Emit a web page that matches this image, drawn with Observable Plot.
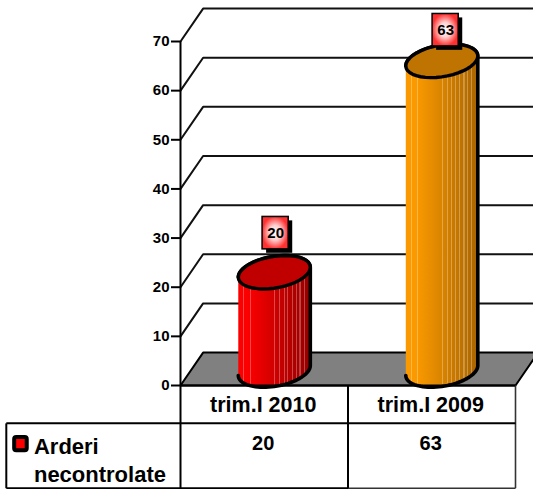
<!DOCTYPE html>
<html>
<head>
<meta charset="utf-8">
<script src="https://cdn.jsdelivr.net/npm/d3@7"></script>
<script src="https://cdn.jsdelivr.net/npm/@observablehq/plot@0.6"></script>
<style>
html,body{margin:0;padding:0;background:#fff}
svg{display:block}
</style>
</head>
<body>
<div id="chart"></div>
<script>
// Data
const categories = ["trim.I 2010", "trim.I 2009"];
const values = [20, 63];
const seriesName = ["Arderi", "necontrolate"];
const yTicks = [0, 10, 20, 30, 40, 50, 60, 70];
const gradientIds = ["cylRed", "cylOrange"];
const topColors = ["#c00000", "#bf7300"];
const labelLift = [11, 9.3];

// 3D geometry, in scale units
const depthX = 0.135, depthY = 6.7;
const rx = 0.215, ry = 3.4, tilt = 0.3, cx = 0.06, cy = 3.05;
const centers = categories.map((_, i) => i + 0.5);
const rows = [0, -7.7, -20.9];
const tableLeft = -1.04, xMax = 2;

const ex = (i, t) => centers[i] + cx + rx * Math.cos(t);
const ey = (i, v, t) => v + cy + ry * Math.sin(t + tilt);
const arc = (i, v, a, b) => d3.range(0, 41).map(k => {
  const t = a + (b - a) * k / 40;
  return {x: ex(i, t), y: ey(i, v, t)};
});
const body = i => [...arc(i, 0, Math.PI, 2 * Math.PI), ...arc(i, values[i], 0, Math.PI)];
const cap = i => arc(i, values[i], 0, 2 * Math.PI);

const floor = [
  {x: 0, y: 0}, {x: depthX, y: depthY}, {x: xMax + depthX, y: depthY}, {x: xMax, y: 0}, {x: 0, y: 0}
];
const grid = yTicks.filter(v => v > 0).flatMap(v => [
  {g: v, x: 0, y: v}, {g: v, x: depthX, y: v + depthY}, {g: v, x: xMax + depthX, y: v + depthY}
]);
const seg = (x1, y1, x2, y2) => ({x1, y1, x2, y2});
const tableLines = [
  seg(0, rows[0], 0, rows[2]),
  seg(1, rows[0], 1, rows[2]),
  seg(tableLeft, rows[1], xMax, rows[1]),
  seg(tableLeft, rows[1], tableLeft, rows[2]),
  seg(tableLeft, rows[2], 1, rows[2])
];
const tableLinesLight = [
  seg(xMax, rows[0], xMax, rows[2]),
  seg(1, rows[2], xMax, rows[2])
];
const labelHalfW = 0.078, labelHalfH = 3.3;
const labels = values.map((v, i) => ({
  i, v,
  x: centers[i] + 0.068 + (i ? 0.015 : 0),
  y: v + labelLift[i]
}));

const boldFont = {fontWeight: "bold", fill: "black"};

const plot = Plot.plot({
  width: 533,
  height: 489,
  marginLeft: 180,
  marginRight: 18,
  marginTop: 41,
  marginBottom: 104,
  style: {fontFamily: "'Liberation Sans', Arial, sans-serif", background: "white", overflow: "hidden"},
  x: {domain: [0, xMax], axis: null},
  y: {domain: [0, 70]},
  marks: [
    Plot.line(grid, {x: "x", y: "y", z: "g", stroke: "#111", strokeWidth: 2, curve: "linear"}),
    Plot.line(floor, {x: "x", y: "y", fill: "#808080", stroke: "black", strokeWidth: 2}),
    ...values.flatMap((v, i) => [
      Plot.line(body(i), {x: "x", y: "y", fill: `url(#${gradientIds[i]})`, stroke: "black", strokeWidth: 3.6, strokeLinejoin: "round"}),
      Plot.line(cap(i), {x: "x", y: "y", fill: topColors[i], stroke: "black", strokeWidth: 3.4})
    ]),
    Plot.ruleX([0], {y1: 0, y2: 70, stroke: "black", strokeWidth: 2}),
    Plot.link(tableLinesLight, {x1: "x1", y1: "y1", x2: "x2", y2: "y2", stroke: "#333", strokeWidth: 1.6}),
    Plot.link(tableLines, {x1: "x1", y1: "y1", x2: "x2", y2: "y2", stroke: "black", strokeWidth: 2}),
    Plot.ruleY([0], {x1: 0, x2: xMax, stroke: "black", strokeWidth: 2}),
    Plot.axisY({ticks: yTicks, tickSize: 9, tickPadding: 2, strokeWidth: 2, label: null, fontSize: 15, fontWeight: "bold", color: "black"}),
    // value labels with shadow
    Plot.rect(labels, {
      x1: d => d.x - labelHalfW + 0.024, x2: d => d.x + labelHalfW + 0.024,
      y1: d => d.y - labelHalfH - 0.8, y2: d => d.y + labelHalfH - 0.8,
      fill: "black", inset: 0
    }),
    Plot.rect(labels, {
      x1: d => d.x - labelHalfW, x2: d => d.x + labelHalfW,
      y1: d => d.y - labelHalfH, y2: d => d.y + labelHalfH,
      fill: "url(#labelFill)", stroke: "black", strokeWidth: 1.5, inset: 0
    }),
    Plot.text(labels, {x: "x", y: "y", text: d => String(d.v), fontSize: 15, ...boldFont}),
    // data table
    Plot.text(categories, {x: (_, i) => centers[i] - 0.006, y: (rows[0] + rows[1]) / 2 - 0.2, text: d => d, fontSize: 21.5, ...boldFont}),
    Plot.text(values, {x: (_, i) => centers[i] - 0.006, y: -11.9, text: d => String(d), fontSize: 20, ...boldFont}),
    Plot.rect([0], {
      x1: -0.99, x2: -0.915, y1: -13.3, y2: -10.6,
      fill: "#ff0000", stroke: "black", strokeWidth: 4, rx: 2, inset: 0
    }),
    Plot.text(seriesName, {
      x: -0.875, y: (_, i) => -12.6 - i * 5.7, text: d => d, textAnchor: "start", fontSize: 22, ...boldFont
    })
  ]
});

// Shaded gradients for the cylinder sides
function stripes(base, dark, light) {
  const mix = d3.interpolateRgb(base, dark);
  const stops = [];
  const add = (o, c) => stops.push([o, c]);
  const lightPos = [0.07, 0.16, 0.5, 0.57, 0.63, 0.68, 0.74, 0.8, 0.85, 0.91];
  let prev = 0;
  const shade = o => o < 0.15 ? base : mix((o - 0.15) / 0.85);
  for (const p of lightPos) {
    add(prev, shade(prev)); add(p - 0.001, shade(p));
    add(p, d3.interpolateRgb(shade(p), light)(0.28)); add(p + 0.015, d3.interpolateRgb(shade(p), light)(0.28));
    add(p + 0.016, shade(p));
    prev = p + 0.016;
  }
  add(prev, shade(prev)); add(1, dark);
  return stops;
}
const svg = d3.select(plot);
const defs = svg.insert("defs", ":first-child");
function addGrad(id, stops) {
  const g = defs.append("linearGradient").attr("id", id).attr("x1", 0).attr("x2", 1).attr("y1", 0).attr("y2", 0);
  stops.forEach(([o, c]) => g.append("stop").attr("offset", o).attr("stop-color", c));
}
addGrad("cylRed", stripes("#fa0000", "#930000", "#ffffff"));
addGrad("cylOrange", stripes("#fb9a00", "#a96400", "#ffffff"));
const rg = defs.append("radialGradient").attr("id", "labelFill");
rg.append("stop").attr("offset", 0).attr("stop-color", "#ffffff");
rg.append("stop").attr("offset", 0.45).attr("stop-color", "#ffd0d0");
rg.append("stop").attr("offset", 1).attr("stop-color", "#ff3030");

document.getElementById("chart").appendChild(plot);
</script>
</body>
</html>
